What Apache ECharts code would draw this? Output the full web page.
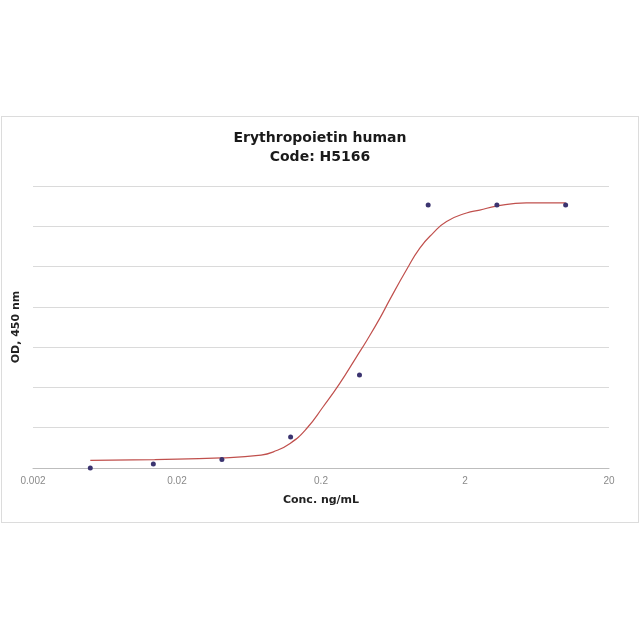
<!DOCTYPE html>
<html>
<head>
<meta charset="utf-8">
<script src="https://cdn.jsdelivr.net/npm/echarts@6/dist/echarts.min.js"></script>
<style>
html,body{margin:0;padding:0;background:#fff;}
#frame{position:absolute;left:1px;top:116px;width:636px;height:405px;border:1px solid #dcdcdc;}
#chart{position:absolute;left:0;top:0;width:640px;height:640px;}
</style>
</head>
<body>
<div id="frame"></div>
<div id="chart"></div>
<script>
var titleLines = ['Erythropoietin human', 'Code: H5166'];
var xTickLabels = ['0.002', '0.02', '0.2', '2', '20'];
var xBase = 0.002;
var conc = [0.005, 0.0137, 0.041, 0.123, 0.37, 1.11, 3.33, 10];
var od = [0, 0.05, 0.105, 0.385, 1.155, 3.265, 3.265, 3.265];
var curveConc = [0.005, 0.014, 0.0408, 0.0767, 0.0934, 0.122, 0.159, 0.207, 0.270, 0.353, 0.415, 0.513, 0.601, 0.785, 0.971, 1.20, 1.49, 2.05, 2.53, 3.30, 5.33, 10];
var curveOD = [0.095, 0.105, 0.125, 0.16, 0.20, 0.305, 0.49, 0.76, 1.05, 1.38, 1.58, 1.86, 2.09, 2.46, 2.73, 2.915, 3.06, 3.165, 3.2, 3.25, 3.29, 3.29];

function dec(c) { return Math.log10(c / xBase); }

var chart = echarts.init(document.getElementById('chart'));
chart.setOption({
  animation: false,
  backgroundColor: 'transparent',
  title: {
    text: titleLines.join('\n'),
    left: 'center',
    top: 124,
    textStyle: {fontFamily: 'DejaVu Sans', fontSize: 14, fontWeight: 'bold', color: '#1a1a1a', lineHeight: 19}
  },
  grid: {left: 33, right: 31, top: 186, bottom: 172, containLabel: false},
  xAxis: {
    type: 'value',
    min: 0,
    max: xTickLabels.length - 1,
    interval: 1,
    name: 'Conc. ng/mL',
    nameLocation: 'middle',
    nameGap: 27,
    nameTextStyle: {fontFamily: 'DejaVu Sans', fontSize: 11, fontWeight: 'bold', color: '#222'},
    axisLine: {show: true, lineStyle: {color: '#bdbdbd', width: 1}},
    axisTick: {show: false},
    splitLine: {show: false},
    axisLabel: {
      fontFamily: 'Liberation Sans', fontSize: 10, color: '#8a8a8a', margin: 8,
      formatter: function (v) {
        var i = Math.round(v);
        return xTickLabels[i] !== undefined ? xTickLabels[i] : '';
      }
    }
  },
  yAxis: {
    type: 'value',
    min: 0,
    max: 3.5,
    interval: 0.5,
    name: 'OD, 450 nm',
    nameLocation: 'middle',
    nameGap: 11,
    nameTextStyle: {fontFamily: 'DejaVu Sans', fontSize: 11, fontWeight: 'bold', color: '#222'},
    axisLine: {show: false},
    axisTick: {show: false},
    axisLabel: {show: false},
    splitLine: {show: true, lineStyle: {color: '#dadada', width: 1}}
  },
  series: [
    {
      type: 'line',
      data: curveConc.map(function (c, i) { return [dec(c), curveOD[i]]; }),
      smooth: true,
      showSymbol: false,
      symbol: 'none',
      lineStyle: {color: '#c0504d', width: 1.2},
      z: 2
    },
    {
      type: 'scatter',
      data: conc.map(function (c, i) { return [dec(c), od[i]]; }),
      symbolSize: 5,
      itemStyle: {color: '#3b3470', opacity: 1},
      z: 3
    }
  ]
});
</script>
</body>
</html>
